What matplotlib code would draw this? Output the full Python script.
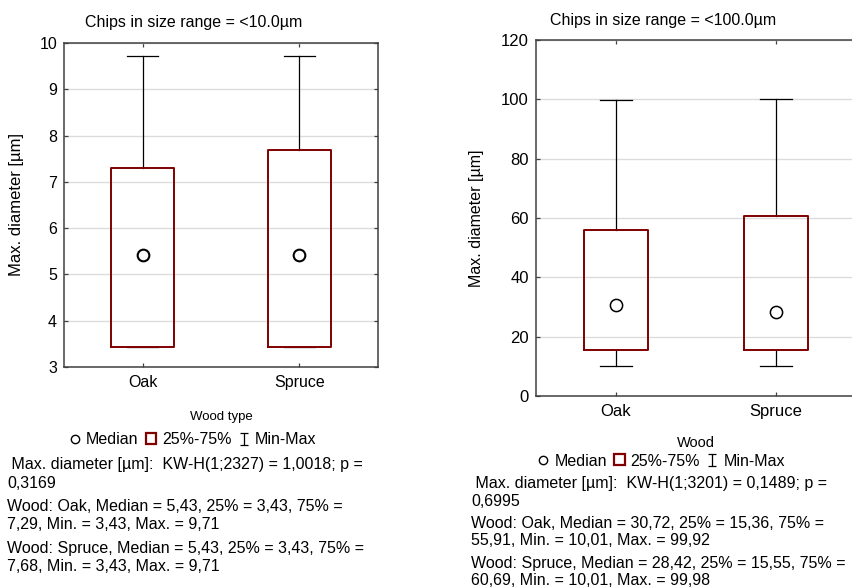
import matplotlib

matplotlib.use("Agg")
import matplotlib.pyplot as plt
from matplotlib.lines import Line2D
from matplotlib.patches import Patch
from matplotlib.path import Path

plt.rcParams["font.family"] = ["Liberation Sans", "DejaVu Sans"]

W, H = 852, 587

categories = ["Oak", "Spruce"]

# panel 1: chips < 10 um
small_med = [5.43, 5.43]
small_q1 = [3.43, 3.43]
small_q3 = [7.29, 7.68]
small_min = [3.43, 3.43]
small_max = [9.71, 9.71]
small_kw = ("1;2327", "1,0018", "0,3169")

# panel 2: chips < 100 um
large_med = [30.72, 28.42]
large_q1 = [15.36, 15.55]
large_q3 = [55.91, 60.69]
large_min = [10.01, 10.01]
large_max = [99.92, 99.98]
large_kw = ("1;3201", "0,1489", "0,6995")

BOX_RED = "#800000"
SPINE = "#404040"


def px(x, y):
    return x / W, 1 - y / H


def fmt(v):
    return f"{v:.2f}".replace(".", ",")


def stats_lines(med, q1, q3, lo, hi, kw):
    lines = [f" Max. diameter [µm]:  KW-H({kw[0]}) = {kw[1]}; p =", kw[2]]
    for i, name in enumerate(categories):
        lines.append(f"Wood: {name}, Median = {fmt(med[i])}, 25% = {fmt(q1[i])}, 75% =")
        lines.append(f"{fmt(q3[i])}, Min. = {fmt(lo[i])}, Max. = {fmt(hi[i])}")
    return lines


def box_panel(ax, med, q1, q3, lo, hi, ylim, yticks, fs, ms, mew):
    stats = [
        dict(med=med[i], q1=q1[i], q3=q3[i], whislo=lo[i], whishi=hi[i], fliers=[])
        for i in range(len(categories))
    ]
    ax.bxp(
        stats,
        positions=[1, 2],
        widths=0.4,
        capwidths=0.2,
        boxprops=dict(color=BOX_RED, linewidth=1.4, zorder=3),
        whiskerprops=dict(color="black", linewidth=0.9, zorder=2),
        capprops=dict(color="black", linewidth=0.9, zorder=2),
        medianprops=dict(visible=False),
        showfliers=False,
    )
    ax.plot([1, 2], med, ls="none", marker="o", ms=ms, mfc="white", mec="black", mew=mew, zorder=4)
    ax.set_xlim(0.5, 2.5)
    ax.set_ylim(*ylim)
    ax.set_yticks(yticks)
    ax.set_xticks([1, 2], categories)
    ax.yaxis.grid(True, color="#dcdcdc", linewidth=1.0)
    ax.set_axisbelow(True)
    ax.tick_params(direction="in", length=3, width=0.9, color=SPINE, top=True, right=True,
                   labelsize=fs, pad=5)
    ax.tick_params(axis="x", pad=6)
    for sp in ax.spines.values():
        sp.set_color(SPINE)
        sp.set_linewidth(1.1)


fig = plt.figure(figsize=(W / 100, H / 100), dpi=100)

axL = fig.add_axes([64 / W, 1 - 367 / H, 314 / W, 324 / H])
box_panel(axL, small_med, small_q1, small_q3, small_min, small_max,
          (3, 10), range(3, 11), 11.5, 8.4, 1.5)
axL.set_ylabel("Max. diameter [µm]", fontsize=12)
axL.yaxis.set_label_coords((16 - 64) / 314, 0.5)
axL.yaxis.label.set_va("center")

axR = fig.add_axes([535.7 / W, 1 - 396 / H, 320 / W, 356 / H])
box_panel(axR, large_med, large_q1, large_q3, large_min, large_max,
          (0, 120), range(0, 121, 20), 12, 8.8, 1.1)
axR.set_ylabel("Max. diameter [µm]", fontsize=11.5)
axR.yaxis.set_label_coords((477 - 535.7) / 320, 0.5)
axR.yaxis.label.set_va("center")

fig.text(*px(194, 27), "Chips in size range = <10.0µm", ha="center", va="baseline", fontsize=11.5)
fig.text(*px(663, 25), "Chips in size range = <100.0µm", ha="center", va="baseline", fontsize=11.5)
fig.text(*px(221, 420), "Wood type", ha="center", va="baseline", fontsize=9.5)
fig.text(*px(696, 447), "Wood", ha="center", va="baseline", fontsize=10.5)

ibeam = Path(
    [(-0.35, 0.5), (0.35, 0.5), (0, 0.5), (0, -0.5), (-0.35, -0.5), (0.35, -0.5)],
    [Path.MOVETO, Path.LINETO, Path.MOVETO, Path.LINETO, Path.MOVETO, Path.LINETO],
)
handles = [
    Line2D([], [], ls="none", marker="o", ms=6, mfc="white", mec="black", mew=1.0),
    Patch(facecolor="white", edgecolor=BOX_RED, linewidth=1.6),
    Line2D([], [], ls="none", marker=ibeam, ms=9, mfc="none", mec="black", mew=0.9),
]
labels = ["Median", "25%-75%", "Min-Max"]
for cx, cy in [(193, 440), (661.5, 461)]:
    fig.legend(handles, labels, loc="center", bbox_to_anchor=px(cx, cy), ncol=3,
               frameon=False, fontsize=11.5, handlelength=0.67, handleheight=0.67,
               handletextpad=0.35, columnspacing=0.45, borderpad=0, borderaxespad=0)

left_lines = stats_lines(small_med, small_q1, small_q3, small_min, small_max, small_kw)
left_y = [469, 488, 511, 529, 553, 571]
for s, y in zip(left_lines, left_y):
    fig.text(*px(7, y), s, ha="left", va="baseline", fontsize=11.5)

right_lines = stats_lines(large_med, large_q1, large_q3, large_min, large_max, large_kw)
right_y = [488, 506, 528, 545, 568, 585]
for s, y in zip(right_lines, right_y):
    fig.text(*px(471, y), s, ha="left", va="baseline", fontsize=11.5)

fig.savefig("out.png", dpi=100)
